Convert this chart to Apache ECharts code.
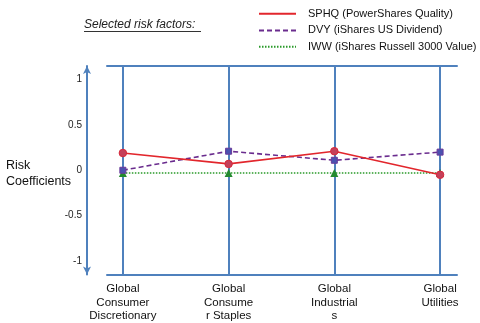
<!DOCTYPE html>
<html>
<head>
<meta charset="utf-8">
<script src="https://cdn.jsdelivr.net/npm/echarts@6/dist/echarts.min.js"></script>
<style>
  html, body { margin: 0; padding: 0; background: #fff; }
  #chart { width: 480px; height: 323px; }
</style>
</head>
<body>
<div id="chart"></div>
<script>
// Sectors on the x axis
const categories = [
  'Global\nConsumer\nDiscretionary',
  'Global\nConsume\nr Staples',
  'Global\nIndustrial\ns',
  'Global\nUtilities'
];

// Risk coefficients per sector
const sphq = [0.19, 0.07, 0.21, -0.05];
const dvy = [0.0, 0.21, 0.11, 0.2];
const iww = [-0.03, -0.03, -0.03, -0.03];

const seriesNames = [
  'SPHQ (PowerShares Quality)',
  'DVY (iShares US Dividend)',
  'IWW (iShares Russell 3000 Value)'
];

const yTicks = [-1, -0.5, 0, 0.5, 1];

const frameBlue = '#4f81bd';
const font = 'Liberation Sans, Arial, sans-serif';

function pairs(vals) {
  return vals.map((v, i) => [i, v]);
}

const chart = echarts.init(document.getElementById('chart'));

const xRange = { min: -0.15, max: 3.16 };

chart.setOption({
  animation: false,
  backgroundColor: '#fff',
  textStyle: { fontFamily: font },
  grid: { left: 107, right: 23, top: 66, bottom: 46, containLabel: false },
  legend: {
    orient: 'vertical',
    left: 253,
    top: 3,
    itemGap: 5,
    itemWidth: 37,
    itemHeight: 12,
    padding: [5, 0, 5, 5],
    textStyle: { fontSize: 11, color: '#111', fontFamily: font, padding: [0, 0, 0, 7] },
    itemStyle: { opacity: 0 },
    data: seriesNames
  },
  graphic: [
    {
      type: 'text',
      left: 84,
      top: 19,
      style: {
        text: 'Selected risk factors:',
        font: 'italic 12px ' + font,
        fill: '#222'
      }
    },
    {
      type: 'line',
      shape: { x1: 84, y1: 31.5, x2: 201, y2: 31.5 },
      style: { stroke: '#333', lineWidth: 1 }
    },
    {
      type: 'text',
      left: 6,
      top: 158,
      style: {
        text: 'Risk\nCoefficients',
        font: '12.5px ' + font,
        fill: '#111',
        lineHeight: 16
      }
    }
  ],
  xAxis: [
    {
      type: 'value',
      position: 'bottom',
      min: xRange.min,
      max: xRange.max,
      axisLine: { show: true, onZero: false, lineStyle: { color: frameBlue, width: 2 } },
      axisTick: { show: false, customValues: [0, 1, 2, 3] },
      axisLabel: {
        customValues: [0, 1, 2, 3],
        formatter: (v) => categories[Math.round(v)],
        color: '#111',
        fontSize: 11.5,
        lineHeight: 13.5,
        margin: 8,
        align: 'center'
      },
      splitLine: { show: true, lineStyle: { color: frameBlue, width: 2 } }
    },
    {
      type: 'value',
      position: 'top',
      min: xRange.min,
      max: xRange.max,
      axisLine: { show: true, onZero: false, lineStyle: { color: frameBlue, width: 2 } },
      axisTick: { show: false },
      axisLabel: { show: false },
      splitLine: { show: false }
    }
  ],
  yAxis: {
    type: 'value',
    min: -1.15,
    max: 1.15,
    offset: 20,
    axisLine: {
      show: true,
      onZero: false,
      symbol: ['arrow', 'arrow'],
      symbolSize: [6, 8],
      lineStyle: { color: frameBlue, width: 2 }
    },
    axisTick: { show: false, customValues: yTicks },
    axisLabel: {
      customValues: yTicks,
      color: '#222',
      fontSize: 10,
      margin: 5,
      formatter: (v) => String(v)
    },
    splitLine: { show: false }
  },
  series: [
    {
      name: seriesNames[0],
      type: 'line',
      data: pairs(sphq),
      symbol: 'circle',
      symbolSize: 7.5,
      lineStyle: { color: '#e2262c', width: 1.6, type: 'solid' },
      itemStyle: { color: '#c4405a', borderColor: '#d8283a', borderWidth: 1 },
      color: '#e2262c',
      z: 4
    },
    {
      name: seriesNames[1],
      type: 'line',
      data: pairs(dvy),
      symbol: 'rect',
      symbolSize: 6,
      lineStyle: { color: '#6a2c8e', width: 1.6, type: [5, 3] },
      itemStyle: { color: '#4b52b0', borderColor: '#6a3a9a', borderWidth: 1 },
      color: '#6a2c8e',
      z: 3
    },
    {
      name: seriesNames[2],
      type: 'line',
      data: pairs(iww),
      symbol: 'triangle',
      symbolSize: 8,
      lineStyle: { color: '#2a9a2a', width: 1.6, type: [1.5, 1.5] },
      itemStyle: { color: '#238a2f' },
      color: '#2a9a2a',
      z: 2
    }
  ]
});
</script>
</body>
</html>
